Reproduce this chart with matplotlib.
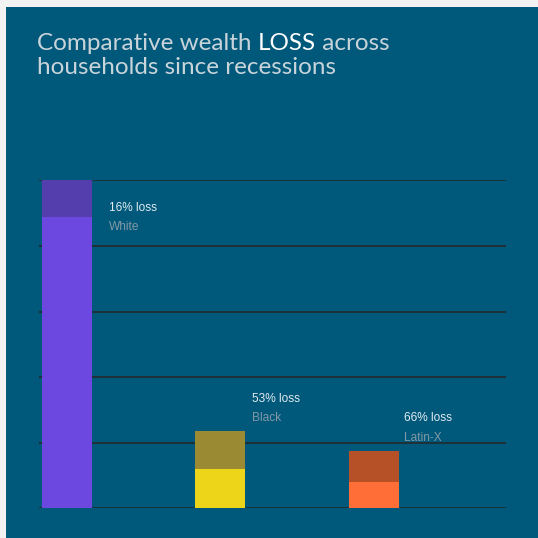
import matplotlib
matplotlib.use("Agg")
import matplotlib.pyplot as plt
from matplotlib.patches import Rectangle

# ---- data ----
categories = ["White", "Black", "Latin-X"]
loss_labels = ["16% loss", "53% loss", "66% loss"]
wealth_before = [5.00, 1.18, 0.87]   # in gridline units
wealth_after = [4.44, 0.60, 0.40]
after_colors = ["#6C47E0", "#EDD51A", "#FF6E37"]
lost_colors = ["#543EAD", "#9A8A33", "#B55027"]

W = H = 538
DPI = 100
fig = plt.figure(figsize=(W / DPI, H / DPI), dpi=DPI, facecolor="#F2F2F2")

# blue panel
panel = Rectangle((6 / W, 0), 1 - 6 / W, 1 - 7 / H, transform=fig.transFigure,
                  facecolor="#00587A", edgecolor="none", zorder=-10)
fig.patches.append(panel)

ax_left, ax_right = 39, 506
ax_top, ax_bot = 180.3, 508.3
ax = fig.add_axes([ax_left / W, 1 - ax_bot / H, (ax_right - ax_left) / W, (ax_bot - ax_top) / H])
ax.set_zorder(5)
ax.set_facecolor("none")
for s in ax.spines.values():
    s.set_visible(False)
ax.set_ylim(0, 5)
ax.set_xlim(-0.182, 2.86)
ax.set_xticks([])
ax.set_yticks([])
for g in range(6):
    ax.axhline(g, color="#262626", lw=1.1, zorder=1)

x = list(range(len(categories)))
lost = [b - a for b, a in zip(wealth_before, wealth_after)]
ax.bar(x, wealth_after, width=0.326, color=after_colors, zorder=2, linewidth=0)
ax.bar(x, lost, bottom=wealth_after, width=0.326, color=lost_colors, zorder=2, linewidth=0)

# labels (pixel positions converted to data)
def ydat(p):
    return (ax_bot - p) / ((ax_bot - ax_top) / 5)

label_dx = [0.274, 0.208, 0.195]
label_y1 = [208, 399, 418]
label_y2 = [227, 418, 438]
for i in x:
    ax.text(i + label_dx[i], ydat(label_y1[i]), loss_labels[i], color="#E2EBF0",
            fontsize=8.6, family="Liberation Sans", va="center", ha="left", zorder=3)
    ax.text(i + label_dx[i], ydat(label_y2[i]), categories[i], color="#8299A6",
            fontsize=8.6, family="Liberation Sans", va="center", ha="left", zorder=3)

# title with highlighted LOSS
fig.canvas.draw()
renderer = fig.canvas.get_renderer()
title_fs = 17.5
gray = "#C9D4DA"
parts = [("Comparative wealth ", gray), ("LOSS", "#FFFFFF"), (" across", gray)]
xpix = 37
for txt, col in parts:
    t = fig.text(xpix / W, 1 - 49.5 / H, txt, color=col, fontsize=title_fs, family="Lato",
                 va="baseline", ha="left", zorder=10)
    w = t.get_window_extent(renderer).width
    xpix += w
fig.text(37 / W, 1 - 74.5 / H, "households since recessions", color=gray, fontsize=title_fs,
         family="Lato", va="baseline", ha="left", zorder=10)

fig.savefig("out.png", dpi=DPI, facecolor=fig.get_facecolor())
